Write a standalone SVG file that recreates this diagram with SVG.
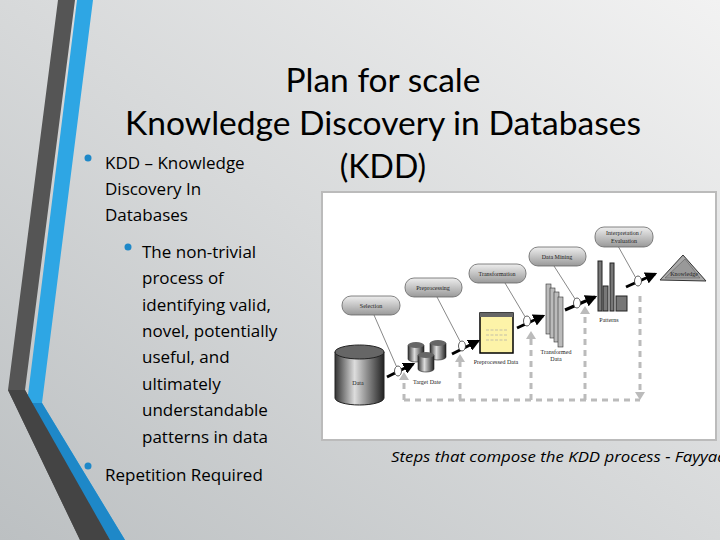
<svg xmlns="http://www.w3.org/2000/svg" width="720" height="540" viewBox="0 0 720 540">
<defs>
<linearGradient id="bg" x1="1" y1="0" x2="0" y2="1"><stop offset="0" stop-color="#f2f2f2"/><stop offset="1" stop-color="#bcc0c2"/></linearGradient>
<linearGradient id="cyl" x1="0" x2="1"><stop offset="0" stop-color="#333"/><stop offset="0.4" stop-color="#ddd"/><stop offset="1" stop-color="#222"/></linearGradient>
<linearGradient id="bub" x1="0" y1="0" x2="0" y2="1"><stop offset="0" stop-color="#eee"/><stop offset="1" stop-color="#999"/></linearGradient>
<marker id="ab" viewBox="0 0 10 10" refX="8" refY="5" markerWidth="4" markerHeight="4" orient="auto"><path d="M0,0L10,5L0,10z" fill="#000"/></marker>
<style>
.t{font-family:"Open Sans",Lato,sans-serif;fill:#000}
.f{font-family:"Liberation Serif",serif;font-size:6px;fill:#222;text-anchor:middle}
.b{fill:url(#bub);stroke:#666;stroke-width:0.8}
.ln{stroke:#555;stroke-width:0.7;fill:none}
.ar{stroke:#000;stroke-width:3;marker-end:url(#ab)}
.ci{fill:#fff;stroke:#333;stroke-width:0.8}
.d{stroke:#bbb;stroke-width:3;stroke-dasharray:6 5;fill:none}
</style>
</defs>
<rect width="720" height="540" fill="url(#bg)"/>
<polygon points="58,0 75,0 25,390 110,540 80,540 8,390" fill="#555"/>
<polygon points="77,0 93,0 42,403 125,540 110,540 27,403" fill="#2ea6e4"/>
<polygon points="27,403 42,403 125,540 110,540" fill="#1e88c8"/>
<polygon points="8,390 25,390 110,540 80,540" fill="#444"/>
<g id="title" font-family="Lato,sans-serif" font-size="32" text-anchor="middle">
<text x="383" y="92" textLength="195" lengthAdjust="spacingAndGlyphs">Plan for scale</text>
<text x="383" y="135" textLength="516" lengthAdjust="spacingAndGlyphs">Knowledge Discovery in Databases</text>
<text x="383" y="178">(KDD)</text>
</g>
<g id="bullets" class="t" font-size="17">
<circle cx="88" cy="158" r="3.5" fill="#1e88c8"/>
<text x="105" y="169">KDD – Knowledge</text>
<text x="105" y="195">Discovery In</text>
<text x="105" y="221">Databases</text>
<circle cx="128" cy="247" r="3.5" fill="#1e88c8"/>
<text x="142" y="258">The non-trivial</text>
<text x="142" y="284">process of</text>
<text x="142" y="311">identifying valid,</text>
<text x="142" y="337">novel, potentially</text>
<text x="142" y="363">useful, and</text>
<text x="142" y="390">ultimately</text>
<text x="142" y="416">understandable</text>
<text x="142" y="443">patterns in data</text>
<circle cx="88" cy="466" r="3.5" fill="#1e88c8"/>
<text x="105" y="481">Repetition Required</text>
</g>
<text id="caption" class="t" x="391" y="462" font-size="14" font-style="italic" textLength="336" lengthAdjust="spacingAndGlyphs">Steps that compose the KDD process - Fayyad</text>
<g id="figure">
<rect x="322" y="192" width="394" height="248" fill="#fff" stroke="#bbb" stroke-width="2"/>
<g id="connectors">
<path class="d" d="M640,296V395M404,400H640M404,400V380M460,400V362M531,400V339M585,400V314"/>
<path d="M635,392h10l-5,8z" fill="#bbb"/>
<path d="M399,380h10l-5,-8z M455,362h10l-5,-8z M526,339h10l-5,-8z M580,314h10l-5,-8z" fill="#bbb"/>
<line class="ar" x1="387" y1="377" x2="413" y2="364"/>
<line class="ar" x1="452" y1="354" x2="478" y2="341"/>
<line class="ar" x1="517" y1="328" x2="543" y2="316"/>
<line class="ar" x1="565" y1="310" x2="595" y2="297"/>
<line class="ar" x1="626" y1="287" x2="655" y2="274"/>
<path class="ln" d="M374,315L398,370M437,297L462,345M505,283L527,320M554,266L577,302M618,246L637,280"/>
<ellipse class="ci" cx="398" cy="371" rx="3.5" ry="5"/>
<ellipse class="ci" cx="462" cy="346" rx="3.5" ry="5"/>
<ellipse class="ci" cx="527" cy="321" rx="3.5" ry="5"/>
<ellipse class="ci" cx="577" cy="303" rx="3.5" ry="5"/>
<ellipse class="ci" cx="638" cy="281" rx="3.5" ry="5"/>
</g>
<g id="n-selection"><rect class="b" x="342" y="296" width="58" height="19" rx="9"/><text class="f" x="371" y="308">Selection</text></g>
<g id="n-preprocessing"><rect class="b" x="405" y="278" width="57" height="19" rx="9"/><text class="f" x="433" y="290">Preprocessing</text></g>
<g id="n-transformation"><rect class="b" x="469" y="264" width="57" height="19" rx="9"/><text class="f" x="497" y="276">Transformation</text></g>
<g id="n-datamining"><rect class="b" x="529" y="247" width="57" height="19" rx="9"/><text class="f" x="557" y="259">Data Mining</text></g>
<g id="n-interp"><rect class="b" x="595" y="227" width="58" height="20" rx="9"/><text class="f" x="624" y="235">Interpretation /</text><text class="f" x="624" y="243">Evaluation</text></g>
<g id="n-data"><path d="M335,352V398A24.5,7 0 0 0 384,398V352z" fill="url(#cyl)" stroke="#222"/><ellipse cx="359.5" cy="352" rx="24.5" ry="7" fill="#666" stroke="#222"/><text class="f" x="358" y="385">Data</text></g>
<g id="n-target">
<path d="M408,345v14a8,3 0 0 0 16,0v-14z" fill="url(#cyl)" stroke="#222" stroke-width="0.6"/><ellipse cx="416" cy="345" rx="8" ry="3" fill="#666"/>
<path d="M430,343v14a8,3 0 0 0 16,0v-14z" fill="url(#cyl)" stroke="#222" stroke-width="0.6"/><ellipse cx="438" cy="343" rx="8" ry="3" fill="#666"/>
<path d="M418,355v14a8,3 0 0 0 16,0v-14z" fill="url(#cyl)" stroke="#222" stroke-width="0.6"/><ellipse cx="426" cy="355" rx="8" ry="3" fill="#666"/>
<text class="f" x="427" y="384">Target Date</text></g>
<g id="n-preprocessed"><rect x="480" y="313" width="33" height="40" fill="#fdf3a8" stroke="#000" stroke-width="1.5"/><rect x="480" y="313" width="33" height="4" fill="#666"/><path d="M486,330h22M486,335h22M486,340h22" stroke="#aaa" stroke-dasharray="3 1.5" stroke-width="0.7"/><text class="f" x="496" y="364">Preprocessed Data</text></g>
<g id="n-transformed" fill="#bbb" stroke="#333" stroke-width="0.6">
<rect x="546" y="284" width="5" height="50"/><rect x="550" y="288" width="5" height="50"/><rect x="554" y="292" width="5" height="50"/><rect x="558" y="297" width="5" height="50"/>
<text class="f" x="556" y="354" stroke="none">Transformed</text><text class="f" x="556" y="361" stroke="none">Data</text></g>
<g id="n-patterns" fill="#777" stroke="#222" stroke-width="1">
<rect x="598" y="261" width="4" height="50"/><rect x="603" y="286" width="5" height="25"/><rect x="610" y="263" width="4" height="48"/><rect x="616" y="296" width="11" height="15"/>
<text class="f" x="609" y="322" stroke="none">Patterns</text></g>
<g id="n-knowledge"><polygon points="660,280 683,255 706,281" fill="#aaa" stroke="#333"/><polygon points="665,278 685,259 700,278" fill="#999" stroke="#555" stroke-width="0.5"/><text class="f" x="684" y="276" font-size="5">Knowledge</text></g>
</g>
</svg>
